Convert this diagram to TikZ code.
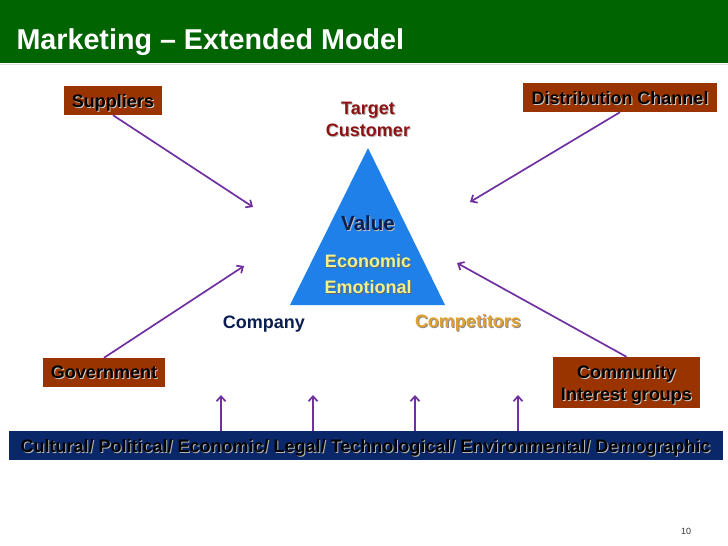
\documentclass[tikz,border=0pt]{standalone}
\usepackage{fontspec}
\setmainfont{Liberation Sans}
\usetikzlibrary{arrows.meta,positioning}
\definecolor{slidegreen}{RGB}{0,100,0}
\definecolor{rust}{RGB}{153,51,0}
\definecolor{violet}{RGB}{112,48,160}
\definecolor{navyband}{RGB}{10,40,105}
\definecolor{navytext}{RGB}{10,30,80}
\definecolor{wine}{RGB}{140,20,20}
\definecolor{skyblue}{RGB}{30,128,232}
\definecolor{paleyel}{RGB}{240,240,140}
\definecolor{gold}{RGB}{225,160,50}
% text with a small drop shadow
\newcommand{\shtxt}[2]{\leavevmode\rlap{\hspace{1pt}\raisebox{-1pt}{\textcolor{#1}{#2}}}#2}
\tikzset{
  rustbox/.style={fill=rust,text=black,inner sep=0pt,text depth=0pt,font=\fontsize{18}{22}\selectfont\bfseries},
  pull/.style={violet,line width=1.7pt,-{Straight Barb[length=5pt,width=9pt]}},
  lbl/.style={font=\fontsize{18}{22}\selectfont\bfseries,align=center}
}
\begin{document}
\begin{tikzpicture}[x=1pt,y=-1pt]
  \useasboundingbox (0,0) rectangle (728,546);
  % title bar
  \fill[slidegreen] (0,0) rectangle (728,63);
  \draw[gray!25,line width=1pt] (0,64) -- (728,64);
  \node[anchor=base west,text=white,font=\fontsize{28.7}{32}\selectfont\bfseries] (title) at (13,49) {Marketing -- Extended Model};

  % the value triangle
  \fill[skyblue] (368,148) -- (445,305) -- (290,305) -- cycle;
  \node[lbl,text=wine] (target) at (368,120) {\shtxt{gray!55}{Target}\\\shtxt{gray!55}{Customer}};
  \node[lbl,text=navytext,font=\fontsize{20.5}{24}\selectfont\bfseries] (value) at (368,224) {\shtxt{gray!50}{Value}};
  \node[lbl,text=paleyel] (econ) at (368,262) {\shtxt{black!60}{Economic}};
  \node[lbl,text=paleyel] (emot) at (368,288) {\shtxt{black!60}{Emotional}};
  \node[lbl,text=navytext] (company) at (264,324) {Company};
  \node[lbl,text=gold] (rivals) at (468,323) {\shtxt{black!45}{Competitors}};

  % outside forces
  \node[rustbox,minimum width=98pt,minimum height=29pt] (suppliers) at (113,100.5) {\shtxt{gray!40}{Suppliers}};
  \node[rustbox,minimum width=194pt,minimum height=29pt] (channel) at (620,97.5) {\shtxt{gray!40}{Distribution Channel}};
  \node[rustbox,minimum width=122pt,minimum height=29pt] (govt) at (104,372.5) {\shtxt{gray!40}{Government}};
  \node[rustbox,minimum width=147pt,minimum height=51pt,align=center] (community) at (626.5,382.5) {\shtxt{gray!40}{Community}\\\shtxt{gray!40}{Interest groups}};
  \node[fill=navyband,text=black,minimum width=714pt,minimum height=29pt,inner sep=0pt,text depth=0pt,font=\fontsize{18}{20}\selectfont\bfseries] (macro) at (365.5,445.5) {\shtxt{gray!60}{Cultural/ Political/ Economic/ Legal/ Technological/ Environmental/ Demographic}};

  \coordinate (s_end) at (253,207);
  \coordinate (c_end) at (470,202);
  \coordinate (g_end) at (244,266);
  \coordinate (i_end) at (457,263);
  \draw[pull] (suppliers.south) -- (s_end);
  \draw[pull] (channel.south) -- (c_end);
  \draw[pull] (govt.north) -- (g_end);
  \draw[pull] (community.north) -- (i_end);
  \foreach \xx [count=\k] in {221,313,415,518} {
    \coordinate (up\k) at (\xx,395);
    \draw[pull] (macro.north -| up\k) -- (up\k);
  }

  \node[text=black!80,font=\fontsize{9}{10}\selectfont] (pageno) at (686,531) {10};
\end{tikzpicture}
\end{document}
